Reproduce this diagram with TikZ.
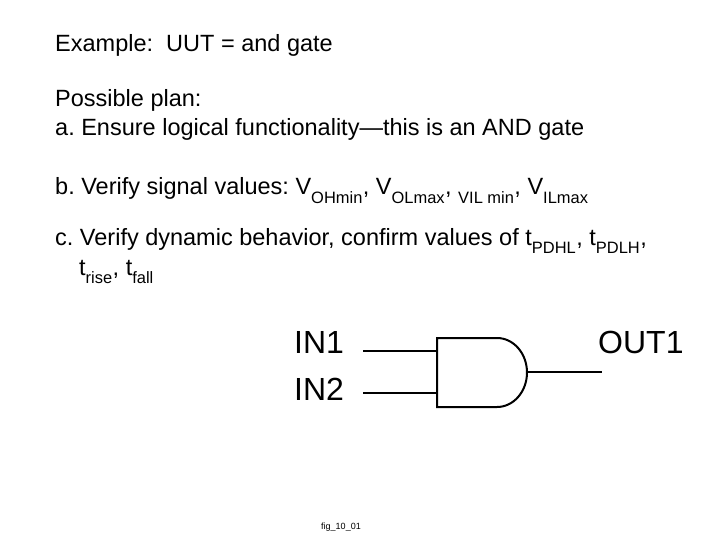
\documentclass[tikz,border=0pt]{standalone}
\usepackage{fontspec}
\setmainfont{Liberation Sans}
\newcommand{\sbs}[1]{\textsubscript{\raisebox{-0.5ex}{#1}}}
\begin{document}
\frenchspacing
\begin{tikzpicture}[x=1pt,y=-1pt,
  txt/.style={anchor=base west,inner sep=0pt,font=\fontsize{23.5}{28}\selectfont},
  lab/.style={inner sep=0pt,font=\fontsize{32}{36}\selectfont},
  wire/.style={line width=2pt}]
\useasboundingbox (0,0) rectangle (720,540);
\node[txt] (l1) at (55,52) {Example:\ \ UUT = and gate};
\node[txt] (l2) at (55,107) {Possible plan:};
\node[txt] (l3) at (55,136) {a. Ensure logical functionality—this is an AND gate};
\node[txt] (l4) at (55,195) {b. Verify signal values: V\sbs{OHmin}, V\sbs{OLmax}, \sbs{VIL min}, V\sbs{ILmax}};
\node[txt] (l5) at (55,245) {c. Verify dynamic behavior, confirm values of t\sbs{PDHL}, t\sbs{PDLH},};
\node[txt] (l6) at (79,275) {t\sbs{rise}, t\sbs{fall}};
\node[lab,anchor=west] (in1) at (294,342) {IN1};
\node[lab,anchor=west] (in2) at (294,389) {IN2};
\node[lab,anchor=west] (out) at (598,342) {OUT1};
\coordinate (a1) at (363,351);
\coordinate (b1) at (437,351);
\coordinate (a2) at (363,393);
\coordinate (b2) at (437,393);
\coordinate (g) at (527,372);
\coordinate (o) at (602,372);
\draw[wire] (497,338) -- (437,338) -- (437,407) -- (497,407) arc[start angle=90,end angle=-90,x radius=30,y radius=34.5];
\draw[wire] (a1) -- (b1);
\draw[wire] (a2) -- (b2);
\draw[wire] (g) -- (o);
\node[inner sep=0pt,font=\fontsize{9}{10}\selectfont] (cap) at (341,527) {fig\_10\_01};
\end{tikzpicture}
\end{document}
